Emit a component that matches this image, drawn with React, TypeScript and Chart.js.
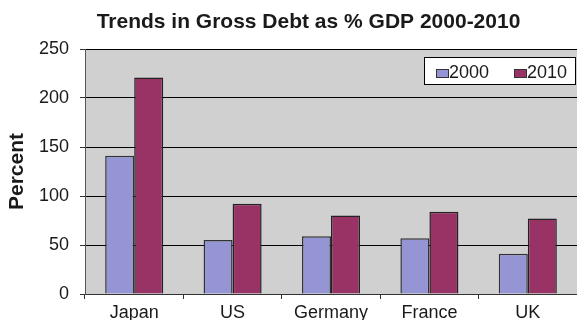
import React, { useEffect, useRef } from "react";
import { Chart, registerables } from "chart.js";

Chart.register(...registerables);

const categories = ["Japan", "US", "Germany", "France", "UK"];
const series2000 = [141, 55, 59, 57, 41];
const series2010 = [221, 92, 80, 84, 77];
const seriesLabels = ["2000", "2010"];
const yTicks = [0, 50, 100, 150, 200, 250];
const titleText = "Trends in Gross Debt as % GDP 2000-2010";
const yTitle = "Percent";

const FONT = "'Liberation Sans', Arial, sans-serif";
const C2000 = "#9595d6";
const C2010 = "#993366";

const bgPlugin = {
  id: "plotBg",
  beforeDraw(chart: any) {
    const { ctx, chartArea } = chart;
    ctx.save();
    ctx.fillStyle = "#ffffff";
    ctx.fillRect(0, 0, chart.width, chart.height);
    ctx.fillStyle = "#d0d0d0";
    ctx.fillRect(chartArea.left, chartArea.top, chartArea.right - chartArea.left, chartArea.bottom - chartArea.top);
    ctx.restore();
  },
};

const titlePlugin = {
  id: "customTitle",
  afterDraw(chart: any) {
    const { ctx } = chart;
    ctx.save();
    ctx.font = `bold 21px ${FONT}`;
    ctx.fillStyle = "#1a1a1a";
    ctx.textAlign = "center";
    ctx.textBaseline = "alphabetic";
    ctx.fillText(titleText, 308.5, 27.5);
    ctx.restore();
  },
};

const legendPlugin = {
  id: "customLegend",
  afterDraw(chart: any) {
    const { ctx } = chart;
    const bx = 424.5, by = 57.5, bw = 151, bh = 27;
    ctx.save();
    ctx.fillStyle = "#ffffff";
    ctx.fillRect(bx, by, bw, bh);
    ctx.strokeStyle = "#000000";
    ctx.lineWidth = 1;
    ctx.strokeRect(bx, by, bw, bh);
    const starts = [436, 514];
    chart.data.datasets.forEach((ds: any, i: number) => {
      const sx = starts[i];
      ctx.fillStyle = ds.backgroundColor;
      ctx.fillRect(sx, 69, 13, 9);
      ctx.strokeStyle = "#333333";
      ctx.strokeRect(sx + 0.5, 69.5, 12, 8);
      ctx.fillStyle = "#1a1a1a";
      ctx.font = `18px ${FONT}`;
      ctx.textAlign = "left";
      ctx.textBaseline = "alphabetic";
      ctx.fillText(ds.label, sx + 13, 78);
    });
    ctx.restore();
  },
};

export default function App() {
  const ref = useRef<HTMLCanvasElement | null>(null);
  useEffect(() => {
    document.body.style.margin = "0";
    if (!ref.current) return;
    const chart = new Chart(ref.current, {
      type: "bar",
      data: {
        labels: categories,
        datasets: [
          {
            label: seriesLabels[0],
            data: series2000,
            backgroundColor: C2000,
            borderColor: "#333333",
            borderWidth: 1.5,
            categoryPercentage: 0.59,
            barPercentage: 1,
          },
          {
            label: seriesLabels[1],
            data: series2010,
            backgroundColor: C2010,
            borderColor: "#222222",
            borderWidth: 1.5,
            categoryPercentage: 0.59,
            barPercentage: 1,
          },
        ],
      },
      options: {
        responsive: false,
        animation: false,
        devicePixelRatio: 1,
        layout: { padding: { top: 49, left: 0, right: 0, bottom: 0 } },
        plugins: {
          legend: { display: false },
          title: { display: false },
          tooltip: { enabled: false },
        },
        scales: {
          x: {
            offset: true,
            grid: {
              offset: true,
              drawOnChartArea: false,
              drawTicks: true,
              tickLength: 5,
              color: "#333333",
            },
            border: { display: true, color: "#333333", width: 1 },
            ticks: {
              color: "#1a1a1a",
              font: { family: FONT, size: 18 },
              padding: 3,
              maxRotation: 0,
              autoSkip: false,
            },
            afterFit(scale: any) {
              scale.height = 26;
            },
          },
          y: {
            min: 0,
            max: 250,
            afterBuildTicks(scale: any) {
              scale.ticks = yTicks.map((v) => ({ value: v }));
            },
            grid: {
              color: "#000000",
              lineWidth: 1,
              drawTicks: true,
              tickLength: 5,
              tickColor: "#333333",
            },
            border: { display: true, color: "#555555", width: 1 },
            ticks: {
              color: "#1a1a1a",
              font: { family: FONT, size: 18 },
              padding: 11,
            },
            title: {
              display: true,
              text: yTitle,
              color: "#1a1a1a",
              font: { family: FONT, size: 21, weight: "bold" },
              padding: { top: 5, bottom: 0 },
            },
            afterFit(scale: any) {
              scale.width = 85;
            },
          },
        },
      },
      plugins: [bgPlugin, titlePlugin, legendPlugin],
    } as any);
    return () => chart.destroy();
  }, []);
  return (
    <div style={{ width: 577, height: 320 }}>
      <canvas ref={ref} width={577} height={320} style={{ display: "block" }} />
    </div>
  );
}
